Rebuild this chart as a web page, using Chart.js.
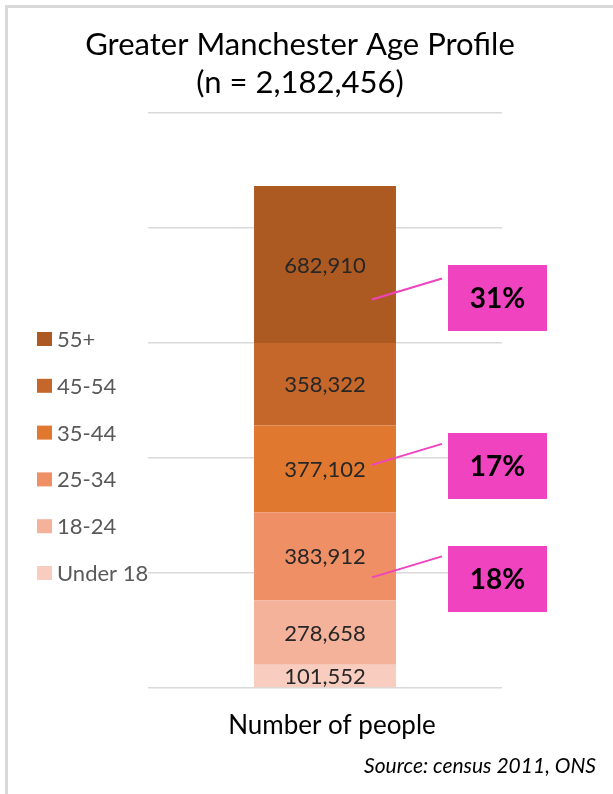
<!DOCTYPE html>
<html lang="en">
<head>
<meta charset="UTF-8">
<title>Greater Manchester Age Profile</title>
<script src="https://cdn.jsdelivr.net/npm/chart.js"></script>
<style>
  * { margin: 0; padding: 0; box-sizing: border-box; }
  body { background: #ffffff; width: 613px; height: 794px; overflow: hidden; }
  canvas { display: block; }
</style>
</head>
<body>
<canvas id="ageChart" width="613" height="794"></canvas>
<script>
// Data
const categories = ['Number of people'];
const ageGroups = ['Under 18', '18-24', '25-34', '35-44', '45-54', '55+'];
const people = [101552, 278658, 383912, 377102, 358322, 682910];
const groupColors = ['#f8cdc0', '#f4b29b', '#ef8f66', '#e07830', '#c5672b', '#ad5a22'];
const yTicks = [0, 500000, 1000000, 1500000, 2000000, 2500000];
const calloutGroups = ['55+', '35-44', '25-34'];

const total = people.reduce((a, b) => a + b, 0);
const FONT = 'Lato, "Open Sans", sans-serif';
const PINK = '#ef43bf';

// Callout layout (box top in px, anchor offset from segment middle in px)
const calloutBoxTop = { '55+': 265, '35-44': 433, '25-34': 546 };
const calloutAnchorOffset = { '55+': 35, '35-44': -4, '25-34': 21 };

const decorPlugin = {
  id: 'decor',
  beforeDraw(chart) {
    const ctx = chart.ctx;
    ctx.save();
    ctx.fillStyle = '#ffffff';
    ctx.fillRect(0, 0, chart.width, chart.height);
    // outer frame
    ctx.strokeStyle = '#d9d9d9';
    ctx.lineWidth = 3;
    ctx.beginPath();
    ctx.moveTo(6.5, chart.height);
    ctx.lineTo(6.5, 6.5);
    ctx.lineTo(chart.width, 6.5);
    ctx.stroke();
    ctx.restore();
  },
  afterDatasetsDraw(chart) {
    const ctx = chart.ctx;
    ctx.save();

    // segment value labels
    ctx.font = '22px ' + FONT;
    ctx.fillStyle = '#262626';
    ctx.textAlign = 'center';
    ctx.textBaseline = 'middle';
    chart.data.datasets.forEach((ds, i) => {
      const bar = chart.getDatasetMeta(i).data[0];
      const p = bar.getProps(['x', 'y', 'base'], true);
      ctx.fillText(ds.data[0].toLocaleString('en-GB'), p.x, (p.y + p.base) / 2 + 1);
    });

    // pink callouts
    const boxL = 448, boxW = 99, boxH = 66;
    calloutGroups.forEach(name => {
      const i = ageGroups.indexOf(name);
      const bar = chart.getDatasetMeta(i).data[0];
      const p = bar.getProps(['x', 'y', 'base'], true);
      const midY = (p.y + p.base) / 2;
      const ax = p.x + 47;
      const ay = midY + calloutAnchorOffset[name];
      const top = calloutBoxTop[name];
      ctx.strokeStyle = PINK;
      ctx.lineWidth = 2;
      ctx.beginPath();
      ctx.moveTo(ax, ay);
      ctx.lineTo(442, ay - 21);
      ctx.stroke();
      ctx.fillStyle = PINK;
      ctx.fillRect(boxL, top, boxW, boxH);
      ctx.fillStyle = '#000000';
      ctx.font = 'bold 28px ' + FONT;
      const pct = Math.round(people[i] / total * 100) + '%';
      ctx.fillText(pct, boxL + boxW / 2, top + boxH / 2 + 1);
    });

    // legend (top to bottom = 55+ .. Under 18)
    ctx.textAlign = 'left';
    ctx.font = '22px ' + FONT;
    for (let k = 0; k < ageGroups.length; k++) {
      const i = ageGroups.length - 1 - k;
      const cy = 339 + k * 46.8;
      ctx.fillStyle = groupColors[i];
      ctx.fillRect(37, cy - 7, 15, 14);
      ctx.fillStyle = '#595959';
      ctx.fillText(ageGroups[i], 57, cy + 1);
    }

    // title
    ctx.textAlign = 'center';
    ctx.fillStyle = '#000000';
    ctx.font = '31px ' + FONT;
    ctx.fillText('Greater Manchester Age Profile', 300, 45);
    ctx.fillText('(n = ' + total.toLocaleString('en-GB') + ')', 300, 83);

    // category label
    ctx.fillStyle = '#000000';
    ctx.font = '26px ' + FONT;
    ctx.fillText(categories[0], 332, 726);

    // source
    ctx.textAlign = 'right';
    ctx.font = 'italic 21px ' + FONT;
    ctx.fillText('Source: census 2011, ONS', 596, 766);

    ctx.restore();
  }
};

new Chart(document.getElementById('ageChart').getContext('2d'), {
  type: 'bar',
  data: {
    labels: categories,
    datasets: ageGroups.map((name, i) => ({
      label: name,
      data: [people[i]],
      backgroundColor: groupColors[i],
      borderWidth: 0,
      categoryPercentage: 1,
      barPercentage: 0.401
    }))
  },
  options: {
    responsive: false,
    animation: false,
    events: [],
    layout: { padding: { left: 148, right: 111, top: 113, bottom: 106 } },
    plugins: {
      legend: { display: false },
      title: { display: false },
      tooltip: { enabled: false }
    },
    scales: {
      x: {
        stacked: true,
        display: false
      },
      y: {
        stacked: true,
        min: yTicks[0],
        max: yTicks[yTicks.length - 1],
        afterBuildTicks: scale => { scale.ticks = yTicks.map(v => ({ value: v })); },
        ticks: { display: false },
        border: { display: false },
        grid: { color: '#d9d9d9', lineWidth: 1.5, drawTicks: false }
      }
    }
  },
  plugins: [decorPlugin]
});
</script>
</body>
</html>
